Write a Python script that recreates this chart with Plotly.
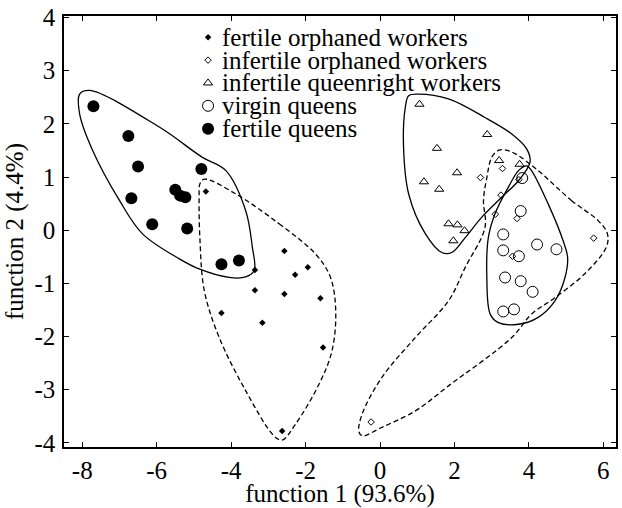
import plotly.graph_objects as go

# ---- data (function 1, function 2) ----
fow_x = [-4.68, -3.36, -3.36, -2.57, -2.28, -1.94, -2.57, -1.60, -4.26, -3.16, -1.53, -2.63]
fow_y = [0.73, -0.75, -1.13, -0.39, -0.84, -0.70, -1.20, -1.28, -1.56, -1.74, -2.21, -3.78]

iow_x = [3.29, 2.70, 3.73, 3.25, 3.10, 3.68, 3.56, 5.74, -0.24]
iow_y = [1.16, 0.99, 0.95, 0.66, 0.30, 0.22, -0.49, -0.15, -3.61]

iqw_x = [1.06, 2.88, 1.53, 2.07, 1.18, 1.59, 3.20, 3.75, 1.84, 2.08, 2.27, 1.97]
iqw_y = [2.37, 1.80, 1.54, 1.08, 0.91, 0.77, 1.31, 1.24, 0.12, 0.10, -0.01, -0.20]

vq_x = [3.82, 3.78, 3.31, 4.22, 4.74, 3.31, 3.73, 3.36, 3.78, 4.10, 3.31, 3.60]
vq_y = [0.98, 0.36, -0.08, -0.27, -0.36, -0.38, -0.49, -0.89, -0.96, -1.16, -1.53, -1.49]

fq_x = [-7.70, -6.76, -6.50, -6.68, -6.12, -5.50, -5.37, -5.23, -5.18, -4.80, -4.26, -3.79]
fq_y = [2.33, 1.77, 1.20, 0.60, 0.11, 0.76, 0.65, 0.62, 0.03, 1.15, -0.64, -0.57]

# hand drawn group outlines
fq_hull_x = [-7.80, -5.93, -4.77, -4.14, -3.61, -3.43, -3.38, -3.61, -4.05, -4.86, -5.39,
             -6.38, -7.00, -7.72, -8.07, -8.07]
fq_hull_y = [2.63, 1.94, 1.37, 1.12, 0.37, -0.32, -0.76, -0.88, -0.89, -0.73, -0.54,
             -0.07, 0.56, 1.50, 2.19, 2.56]

fow_hull_x = [-3.87, -2.71, -1.73, -1.33, -1.19, -1.29, -1.64, -2.27, -2.63, -2.85, -3.61,
              -4.32, -4.72, -4.84, -4.86, -4.84, -4.72]
fow_hull_y = [0.68, 0.12, -0.45, -0.89, -1.52, -2.27, -2.90, -3.65, -3.95, -3.87, -3.02,
              -2.02, -1.14, -0.14, 0.62, 0.87, 0.96]

iqw_hull_x = [1.84, 2.82, 3.54, 3.94, 4.03, 3.72, 3.27, 2.73, 2.29, 1.93, 1.66, 1.22,
              0.77, 0.63, 0.68, 0.77, 1.04]
iqw_hull_y = [2.47, 2.12, 1.81, 1.53, 1.28, 0.93, 0.62, 0.24, -0.14, -0.42, -0.42, -0.07,
              0.68, 1.62, 2.31, 2.53, 2.56]

vq_hull_x = [4.52, 4.92, 5.04, 4.97, 4.70, 4.25, 3.72, 3.18, 2.96, 2.87, 2.91, 3.09,
             3.45, 3.72, 3.94, 4.07]
vq_hull_y = [0.49, -0.20, -0.51, -0.89, -1.33, -1.64, -1.77, -1.74, -1.58, -0.89, -0.14,
             0.31, 0.81, 1.12, 1.21, 1.12]

iow_hull_x = [4.25, 5.14, 5.86, 6.11, 6.08, 5.50, 4.70, 4.07, 3.54, 1.84, 0.95, 0.05,
              -0.48, -0.57, -0.48, 0.05, 0.95, 1.84, 2.29, 2.82, 2.78, 2.87, 3.00,
              3.18, 3.36, 3.63]
iow_hull_y = [1.12, 0.56, 0.18, -0.07, -0.32, -0.82, -1.27, -1.58, -2.02, -2.93, -3.40, -3.71,
              -3.87, -3.78, -3.46, -2.77, -2.02, -1.33, -0.70, 0.05, 0.56, 0.99, 1.37,
              1.50, 1.51, 1.44]

legend_labels = ["fertile orphaned workers", "infertile orphaned workers",
                 "infertile queenright workers", "virgin queens", "fertile queens"]

x_ticks = [-8, -6, -4, -2, 0, 2, 4, 6]
y_ticks = [-4, -3, -2, -1, 0, 1, 2, 3, 4]

FONT = '"Liberation Serif", "Times New Roman", Times, serif'
FS = 25

fig = go.Figure()


def closed(xs, ys):
    return xs + xs[:1], ys + ys[:1]


# outlines
for hx, hy, dash in [(fq_hull_x, fq_hull_y, "solid"),
                     (fow_hull_x, fow_hull_y, "5px,3px"),
                     (iqw_hull_x, iqw_hull_y, "solid"),
                     (vq_hull_x, vq_hull_y, "solid"),
                     (iow_hull_x, iow_hull_y, "5px,3px")]:
    cx, cy = closed(hx, hy)
    fig.add_trace(go.Scatter(x=cx, y=cy, mode="lines", showlegend=False, hoverinfo="skip",
                             line=dict(color="black", width=1.3, dash=dash,
                                       shape="spline", smoothing=1.0)))

# groups
styles = [
    (fow_x, fow_y, dict(symbol="diamond", size=5, color="black")),
    (iow_x, iow_y, dict(symbol="diamond-open", size=5, color="black", line=dict(width=1))),
    (iqw_x, iqw_y, dict(symbol="triangle-up-open", size=8, color="black", line=dict(width=1))),
    (vq_x, vq_y, dict(symbol="circle-open", size=11, color="black", line=dict(width=1))),
    (fq_x, fq_y, dict(symbol="circle", size=12, color="black")),
]
for (px, py, mk), name in zip(styles, legend_labels):
    fig.add_trace(go.Scatter(x=px, y=py, mode="markers", name=name,
                             marker=mk, showlegend=False))

# hand made legend (tight rows, like the original)
LEG_X, LEG_TX, LEG_Y0, LEG_DY = -4.62, -4.30, 3.63, 0.43
for i, ((_, _, mk), name) in enumerate(zip(styles, legend_labels)):
    yy = LEG_Y0 - i * LEG_DY
    fig.add_trace(go.Scatter(x=[LEG_X], y=[yy], mode="markers", marker=mk,
                             showlegend=False, hoverinfo="skip"))
    fig.add_annotation(x=LEG_TX, y=yy, text=name, showarrow=False,
                       xanchor="left", yanchor="middle",
                       font=dict(family=FONT, size=FS, color="black"))

axis_common = dict(showgrid=False, zeroline=False, showline=True, linecolor="black",
                   linewidth=1.5, mirror="ticks", ticks="inside", ticklen=5,
                   tickcolor="black", tickwidth=1.2,
                   tickfont=dict(family=FONT, size=FS, color="black"))

fig.update_xaxes(range=[-8.49, 6.34], tickvals=x_ticks, ticktext=[str(v) for v in x_ticks],
                 ticklabelstandoff=0,
                 title=dict(text="function 1 (93.6%)", standoff=0,
                            font=dict(family=FONT, size=FS, color="black")),
                 **axis_common)
fig.update_yaxes(range=[-4.08, 4.03], tickvals=y_ticks, ticktext=[str(v) for v in y_ticks],
                 ticklabelstandoff=2,
                 title=dict(text="function 2 (4.4%)", standoff=4,
                            font=dict(family=FONT, size=FS, color="black")),
                 **axis_common)

fig.update_layout(width=622, height=508, plot_bgcolor="white", paper_bgcolor="white",
                  margin=dict(l=64, r=4, t=16, b=61), showlegend=False,
                  font=dict(family=FONT, color="black"))

# the page's default body margin would push the figure off the 622x508 window
fig.write_html("out.html", config={"displayModeBar": False},
               post_script="document.body.style.margin = '0';")
